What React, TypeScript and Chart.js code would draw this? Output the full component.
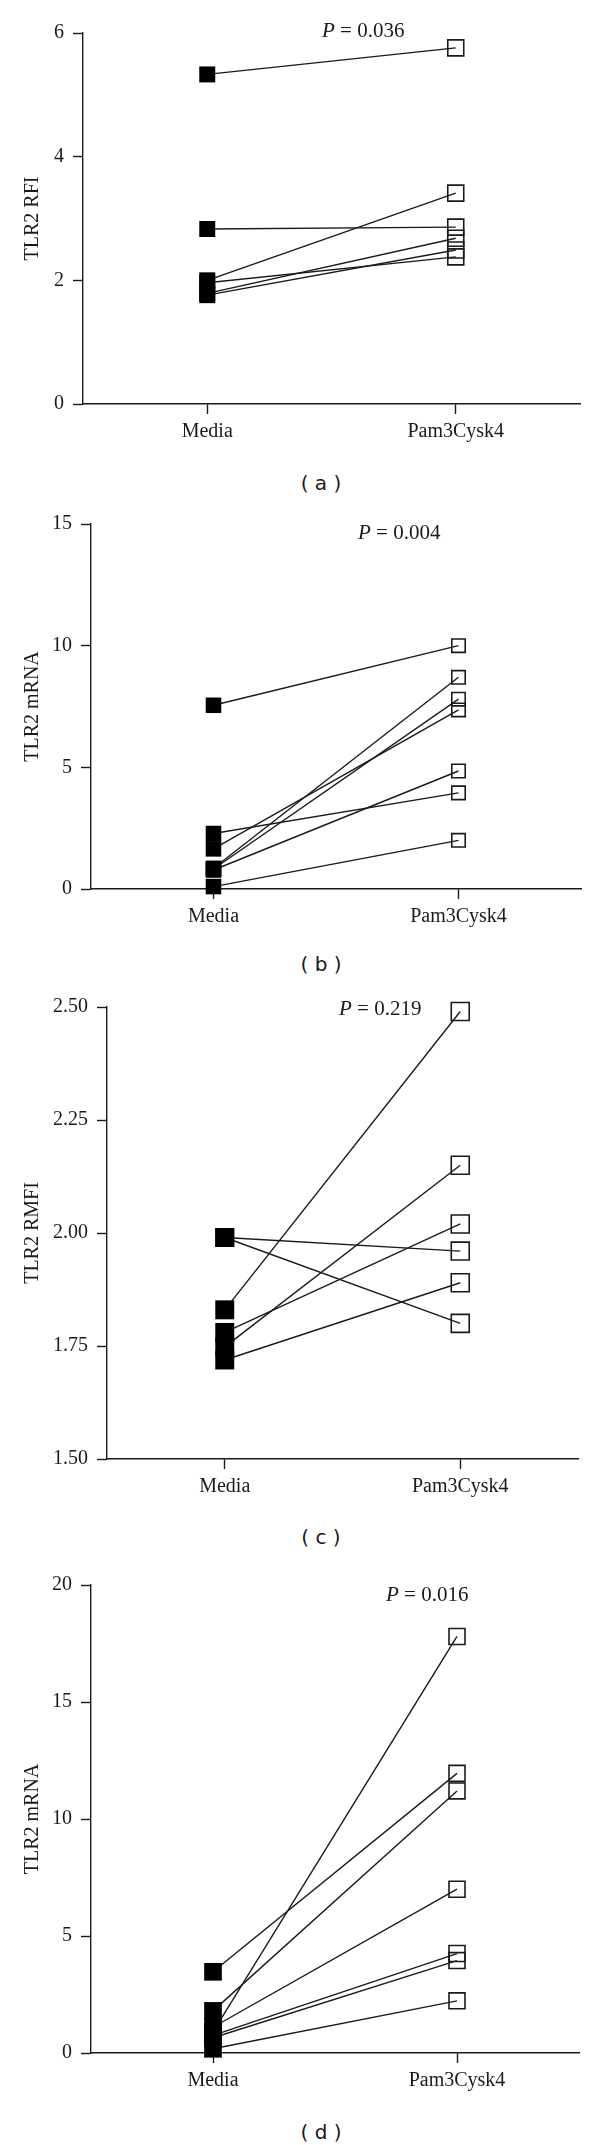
import React, { useEffect, useRef } from 'react';
import { Chart, registerables } from 'chart.js';

Chart.register(...registerables);

// ---- data ----
const categories = ['Media', 'Pam3Cysk4'];

const aMedia = [5.33, 2.83, 2.0, 1.96, 1.79, 1.76];
const aPam = [5.76, 2.86, 3.41, 2.38, 2.68, 2.49];
const aTicks = [0, 2, 4, 6];

const bMedia = [7.55, 2.28, 1.65, 0.85, 0.82, 0.78, 0.1];
const bPam = [10.0, 3.95, 7.36, 8.7, 7.8, 4.85, 2.0];
const bTicks = [0, 5, 10, 15];

const cMedia = [1.99, 1.99, 1.83, 1.78, 1.748, 1.719];
const cPam = [1.96, 1.8, 2.49, 2.02, 2.15, 1.89];
const cTicks = [1.5, 1.75, 2.0, 2.25, 2.5];

const dMedia = [3.47, 1.8, 0.9, 1.1, 0.75, 0.65, 0.18];
const dPam = [11.95, 11.2, 17.8, 7.0, 4.25, 3.95, 2.23];
const dTicks = [0, 5, 10, 15, 20];

const yTitles = ['TLR2 RFI', 'TLR2 mRNA', 'TLR2 RMFI', 'TLR2 mRNA'];
const pTexts = ['0.036', '0.004', '0.219', '0.016'];
const captions = ['( a )', '( b )', '( c )', '( d )'];

// ---- layout ----
const panels = [
  { media: aMedia, pam: aPam, ticks: aTicks, dec: 0, title: yTitles[0], p: pTexts[0], cap: captions[0],
    top: 0, chartTop: 33, chartBottom: 404, left: 83, right: 580, mediaR: 11.3, pamR: 11.3,
    pX: 322, pY: 30, capY: 483 },
  { media: bMedia, pam: bPam, ticks: bTicks, dec: 0, title: yTitles[1], p: pTexts[1], cap: captions[1],
    top: 500, chartTop: 524, chartBottom: 889, left: 91, right: 581, mediaR: 11, pamR: 9.5,
    pX: 358, pY: 532, capY: 964 },
  { media: cMedia, pam: cPam, ticks: cTicks, dec: 2, title: yTitles[2], p: pTexts[2], cap: captions[2],
    top: 980, chartTop: 1007, chartBottom: 1459, left: 107, right: 578, mediaR: 13.4, pamR: 12.7,
    pX: 339, pY: 1008, capY: 1537 },
  { media: dMedia, pam: dPam, ticks: dTicks, dec: 0, title: yTitles[3], p: pTexts[3], cap: captions[3],
    top: 1560, chartTop: 1585, chartBottom: 2053, left: 91, right: 579, mediaR: 12.5, pamR: 11.3,
    pX: 386, pY: 1594, capY: 2132 },
];

const X_AXIS_H = 50;
const INK = '#1a1a1a';
const serif = '"Liberation Serif", "Times New Roman", serif';

function Panel({ cfg }: { cfg: any }) {
  const ref = useRef<HTMLCanvasElement | null>(null);
  const height = cfg.chartBottom + X_AXIS_H - cfg.top;

  useEffect(() => {
    if (!ref.current) return;
    const lineSets = cfg.media.map((m: number, i: number) => ({
      data: [{ x: 0, y: m }, { x: 1, y: cfg.pam[i] }],
      showLine: true,
      borderColor: INK,
      borderWidth: 1.4,
      pointRadius: 0,
      order: 3,
      clip: false,
    }));
    const mediaSet = {
      data: cfg.media.map((v: number) => ({ x: 0, y: v })),
      showLine: false,
      pointStyle: 'rect',
      pointRadius: cfg.mediaR,
      pointBackgroundColor: '#000',
      pointBorderColor: '#000',
      pointBorderWidth: 0,
      order: 0,
      clip: false,
    };
    const pamSet = {
      data: cfg.pam.map((v: number) => ({ x: 1, y: v })),
      showLine: false,
      pointStyle: 'rect',
      pointRadius: cfg.pamR,
      pointBackgroundColor: 'rgba(0,0,0,0)',
      pointBorderColor: INK,
      pointBorderWidth: 1.6,
      order: 1,
      clip: false,
    };
    const font = { family: serif, size: 20, lineHeight: 1.2 };
    const grid = { drawOnChartArea: false, drawTicks: true, tickLength: 10, tickWidth: 1.4, tickColor: INK };
    const border = { display: true, color: INK, width: 1.4 };
    const chart = new Chart(ref.current, {
      type: 'scatter',
      data: { datasets: [mediaSet, pamSet, ...lineSets] as any },
      options: {
        animation: false,
        responsive: false,
        devicePixelRatio: 1,
        layout: { padding: { top: cfg.chartTop - cfg.top, right: 600 - cfg.right, left: 0, bottom: 0 } },
        plugins: { legend: { display: false }, tooltip: { enabled: false } },
        events: [],
        scales: {
          x: {
            type: 'linear',
            min: -0.5,
            max: 1.5,
            afterBuildTicks: (s: any) => { s.ticks = [{ value: 0 }, { value: 1 }]; },
            afterFit: (s: any) => { s.height = X_AXIS_H; },
            ticks: { callback: (v: any) => categories[Number(v)], font, color: INK, padding: 6, autoSkip: false, maxRotation: 0 },
            grid,
            border,
          },
          y: {
            type: 'linear',
            min: cfg.ticks[0],
            max: cfg.ticks[cfg.ticks.length - 1],
            afterBuildTicks: (s: any) => { s.ticks = cfg.ticks.map((v: number) => ({ value: v })); },
            afterFit: (s: any) => { s.width = cfg.left; },
            ticks: { callback: (v: any) => Number(v).toFixed(cfg.dec), font, color: INK, padding: 9 },
            grid,
            border,
            title: { display: true, text: cfg.title, font: { family: serif, size: 20, lineHeight: 1.2 }, color: INK, padding: { top: 21, bottom: 0 } },
          },
        },
      } as any,
    });
    return () => chart.destroy();
  }, [cfg]);

  return (
    <>
      <canvas
        ref={ref}
        width={600}
        height={height}
        style={{ position: 'absolute', left: 0, top: cfg.top, width: 600, height }}
      />
      <div
        style={{ position: 'absolute', left: cfg.pX, top: cfg.pY - 12, font: `21px ${serif}`, lineHeight: '24px', whiteSpace: 'nowrap', color: INK }}
      >
        <i>P</i> = {cfg.p}
      </div>
      <div
        style={{ position: 'absolute', left: 321, top: cfg.capY, transform: 'translate(-50%, -50%)', font: '20px "DejaVu Sans", sans-serif', whiteSpace: 'pre', color: INK }}
      >
        {cfg.cap}
      </div>
    </>
  );
}

export default function App() {
  return (
    <div style={{ position: 'absolute', left: 0, top: 0, width: 600, height: 2145, background: '#fff' }}>
      {panels.map((p, i) => <Panel key={i} cfg={p} />)}
    </div>
  );
}
